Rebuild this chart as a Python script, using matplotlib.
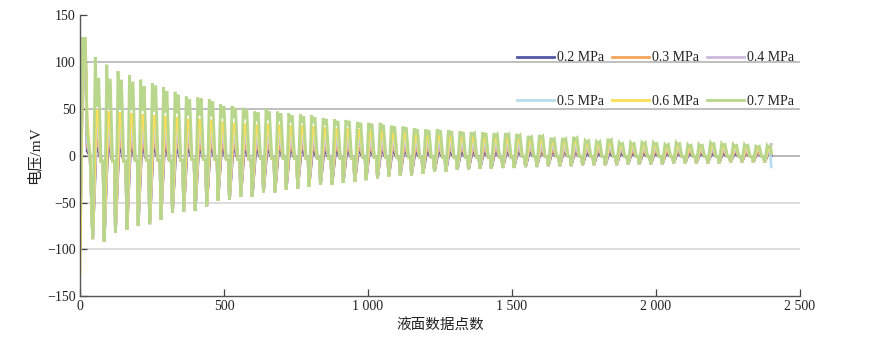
import matplotlib
matplotlib.use("Agg")
import matplotlib.pyplot as plt

# ---------------- data ----------------
labels = ["0.2 MPa", "0.3 MPa", "0.4 MPa", "0.5 MPa", "0.6 MPa", "0.7 MPa"]

# sample index of each main peak (cycle)
peak_pos = [53, 93, 132, 172, 211, 251, 290, 330, 369, 409, 449, 488, 528, 567, 607,
            646, 686, 725, 765, 804, 844, 884, 923, 963, 1002, 1042, 1081, 1121, 1160,
            1200, 1240, 1279, 1319, 1358, 1398, 1437, 1477, 1516, 1556, 1595, 1635,
            1675, 1714, 1754, 1793, 1833, 1872, 1912, 1951, 1991, 2031, 2070, 2110,
            2149, 2189, 2228, 2268, 2307, 2347, 2386]

# 0.7 MPa (top-most curve)
green_peak1 = [105, 97, 90, 86, 81, 77, 73, 68, 63, 62, 60, 55, 53, 51, 47, 50, 47, 45,
               44, 43, 40, 39, 38, 36, 35, 35, 32, 31, 29, 28, 28, 27, 26, 25, 25, 24, 24, 23, 21, 22,
               19, 19, 20, 16, 15, 18, 14, 14, 14, 14, 12, 14, 12, 12, 14, 13, 12, 12, 10, 11]
green_dip = [52, 50, 50, 49, 48, 47, 46, 45, 43, 43, 42, 40, 40, 39, 37, 38, 37, 36,
             35, 35, 33, 32, 32, 30, 30, 29, 27, 27, 25, 24, 24, 23, 22, 22, 21, 21, 21, 20, 18, 19,
             16, 16, 17, 14, 13, 15, 12, 12, 12, 12, 10, 12, 10, 10, 12, 11, 10, 10, 9, 9]
green_peak2 = [83, 82, 81, 79, 74, 75, 69, 65, 60, 61, 58, 53, 51, 49, 46, 47, 45, 43,
               42, 41, 39, 37, 37, 35, 34, 33, 31, 30, 28, 27, 27, 26, 25, 24, 24, 23, 23, 22, 20, 21,
               18, 18, 19, 16, 15, 17, 13, 13, 14, 13, 12, 13, 11, 11, 13, 12, 11, 11, 10, 10]
plateau = [-6, -6, -6, -5, -5, -5, -5, -5, -4, -4, -4, -4, -4, -4, -3, -3, -3, -3,
           -3, -3, -3, -3, -3, -2, -2, -2, -2, -2, -2, -2, -2, -2, -2, -2, -2, -2, -2, -1, -1, -1,
           -1, -1, -1, -1, -1, -1, -1, -1, -1, -1, -1, -1, -1, -1, -1, -1, -1, -1, -1, -1]
trough = [-89, -92, -82, -79, -75, -73, -68, -61, -60, -59, -54, -48, -47, -44, -44, -39, -39, -36,
          -35, -33, -31, -31, -29, -28, -26, -24, -22, -21, -21, -19, -17, -17, -15, -15, -14, -14, -13, -13, -12, -12,
          -11, -11, -11, -10, -10, -10, -10, -9, -9, -9, -9, -8, -8, -8, -8, -8, -7, -7, -7, -7]

# peak levels of the lower-pressure curves
peak_02 = [8, 8, 7, 7, 7, 7, 7, 6, 6, 6, 6, 6, 6, 5, 5, 5, 5, 5,
           5, 4, 4, 4, 4, 4, 4, 4, 4, 4, 3, 3, 3, 3, 3, 3, 3, 3, 3, 3, 3, 3,
           3, 3, 3, 2, 2, 2, 2, 2, 2, 2, 2, 2, 2, 2, 2, 2, 2, 2, 2, 2]
peak_03 = [16, 15, 15, 14, 14, 14, 13, 13, 13, 12, 12, 12, 11, 11, 11, 11, 10, 10,
           10, 9, 9, 9, 9, 8, 8, 8, 8, 7, 7, 7, 7, 7, 7, 6, 6, 6, 6, 6, 6, 5,
           5, 5, 5, 5, 5, 5, 5, 4, 4, 4, 4, 4, 4, 4, 4, 4, 4, 3, 3, 3]
peak_04 = [26, 25, 24, 24, 23, 23, 22, 21, 21, 20, 20, 19, 19, 18, 18, 18, 17, 17,
           16, 15, 15, 15, 14, 14, 14, 13, 13, 12, 12, 12, 11, 11, 11, 10, 10, 10, 10, 9, 9, 9,
           9, 8, 8, 8, 8, 8, 7, 7, 7, 7, 7, 7, 7, 6, 6, 6, 6, 6, 6, 6]
peak_05 = [36, 35, 34, 33, 33, 32, 31, 30, 29, 29, 28, 27, 26, 25, 25, 25, 24, 23,
           22, 22, 21, 21, 20, 20, 19, 19, 18, 18, 17, 17, 16, 16, 16, 15, 15, 15, 14, 14, 13, 13,
           12, 12, 12, 11, 11, 11, 10, 10, 10, 10, 9, 9, 9, 9, 9, 9, 8, 8, 8, 8]
peak_06 = [48, 46, 45, 44, 43, 42, 41, 40, 38, 38, 37, 35, 34, 33, 32, 33, 32, 31,
           31, 30, 29, 28, 28, 27, 26, 26, 24, 24, 22, 22, 22, 21, 21, 20, 20, 20, 19, 19, 17, 18,
           16, 16, 17, 14, 13, 15, 12, 12, 12, 12, 10, 12, 10, 10, 12, 11, 10, 10, 9, 9]

# start-up transient and final sample of each curve
start_low = [-100, -100, -100, -100, -125, -60]
start_high = [125, 125, 125, 125, 125, 125]
start_after = [5, 10, 15, 20, 38, 25]
end_value = [0, 3, 12, -12, 4, 2]
n_points = 2400

colors = ["#5257a6", "#f5a25c", "#cdb9dd", "#b9dcf0", "#fddd55", "#b8d78c"]

# ---------------- build polylines ----------------
def build(idx, vals_by_offset):
    xs = [0, 10, 18, 25, 35]
    ys = [start_low[idx], start_high[idx], start_high[idx], start_after[idx], 0]
    for k, p in enumerate(peak_pos):
        for off, arr in vals_by_offset:
            if p + off < n_points:
                xs.append(p + off)
                ys.append(arr[k])
    xs.append(n_points)
    ys.append(end_value[idx])
    return xs, ys

series = []
for i, pk in enumerate([peak_02, peak_03, peak_04, peak_05, peak_06]):
    series.append(build(i, [(-9, trough), (3, pk), (10, pk), (20, plateau), (27, plateau)]))
series.append(build(5, [(-9, trough), (0, green_peak1), (5, green_dip),
                        (12, green_peak2), (20, plateau), (27, plateau)]))

# ---------------- figure ----------------
serif = ["Liberation Serif", "Noto Sans CJK SC"]
plt.rcParams["font.family"] = serif
plt.rcParams["axes.unicode_minus"] = True

fig = plt.figure(figsize=(8.7, 3.37), dpi=100)
ax = fig.add_axes([80 / 870, 1 - 296.3 / 337, 720 / 870, (296.3 - 15) / 337])

for yv, c in [(100, "#b4b4b4"), (50, "#b4b4b4"), (0, "#acacac"), (-50, "#d6d6d6"), (-100, "#d6d6d6")]:
    ax.axhline(yv, color=c, lw=1.2, zorder=0)

handles = []
for (xs, ys), c, lab in zip(series, colors, labels):
    h, = ax.plot(xs, ys, color=c, lw=2.0, label=lab, solid_joinstyle="miter")
    handles.append(h)

ax.set_xlim(0, 2500)
ax.set_ylim(-150, 150)
ax.set_xticks([0, 500, 1000, 1500, 2000, 2500])
ax.set_xticklabels(["0", "500", "1 000", "1 500", "2 000", "2 500"])
ax.set_yticks([-150, -100, -50, 0, 50, 100, 150])
ax.set_yticklabels(["\u2212150", "\u2212100", "\u221250", "0", "50", "100", "150"])
ax.tick_params(direction="in", length=5, width=0.9, colors="#444444", labelsize=10,
               labelcolor="#222222", pad=3)
for s in ["top", "right"]:
    ax.spines[s].set_visible(False)
for s in ["left", "bottom"]:
    ax.spines[s].set_color("#555555")
    ax.spines[s].set_linewidth(1.0)

ax.set_xlabel("液面数据点数", fontsize=10.5, labelpad=3, color="#222222")
ax.set_ylabel("电压/mV", fontsize=11, labelpad=4, color="#222222")

# row-wise order (legend fills column by column)
order = [0, 3, 1, 4, 2, 5]
leg = ax.legend([handles[i] for i in order], [labels[i] for i in order],
                ncol=3, loc="upper right", bbox_to_anchor=(1.005, 0.905), frameon=False,
                fontsize=10, handlelength=2.65, handletextpad=0.2, columnspacing=0.6,
                labelspacing=2.2, borderpad=0.2)
for t in leg.get_texts():
    t.set_color("#222222")
for l in leg.get_lines():
    l.set_linewidth(2.0)

fig.savefig("out.png", dpi=100)
